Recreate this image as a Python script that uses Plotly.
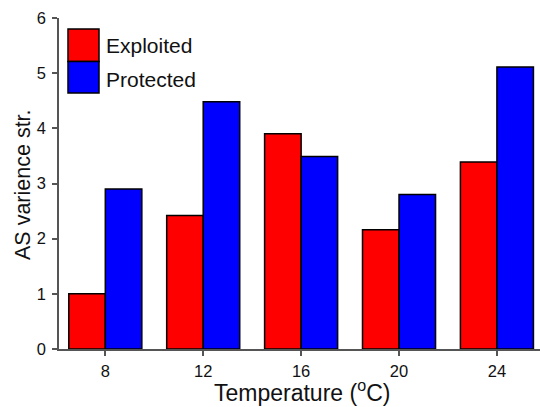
import plotly.graph_objects as go

categories = ["8", "12", "16", "20", "24"]
exploited = [1.0, 2.42, 3.90, 2.16, 3.39]
protected = [2.90, 4.48, 3.49, 2.80, 5.11]
y_ticks = [0, 1, 2, 3, 4, 5, 6]

W, H = 540, 407
L, R, T, B = 59, 0, 18, 58
pw, ph = W - L - R, H - T - B

def px(x):
    return (x - L) / pw

def py(y):
    return (H - B - y) / ph

FONT = "Liberation Sans, Arial, sans-serif"
AX = "#555555"
TXT = "#111111"

fig = go.Figure()
fig.add_trace(go.Bar(x=categories, y=exploited, name="Exploited",
                     marker=dict(color="#ff0000", line=dict(color="black", width=1.5))))
fig.add_trace(go.Bar(x=categories, y=protected, name="Protected",
                     marker=dict(color="#0000ff", line=dict(color="black", width=1.5))))

fig.update_layout(
    width=W, height=H,
    margin=dict(l=L, r=R, t=T, b=B, autoexpand=False),
    plot_bgcolor="white", paper_bgcolor="white",
    barmode="group", bargap=0.254, bargroupgap=0,
    showlegend=False,
    font=dict(family=FONT, color=TXT),
    xaxis=dict(type="category", range=[-0.473, 4.44], showline=True, linecolor=AX,
               linewidth=1.5, ticks="outside", ticklen=5, tickcolor=AX, tickwidth=1.5,
               tickfont=dict(size=16.5, family=FONT, color=TXT), ticklabelstandoff=1,
               showgrid=False, zeroline=False, automargin=False),
    yaxis=dict(range=[0, 6], tickvals=y_ticks, showline=True, linecolor=AX,
               linewidth=1.5, ticks="outside", ticklen=5, tickcolor=AX, tickwidth=1.5,
               tickfont=dict(size=16.5, family=FONT, color=TXT), ticklabelstandoff=3,
               showgrid=False, zeroline=False, automargin=False),
)

# axis titles
fig.add_annotation(text="Temperature (<sup>o</sup>C)", xref="paper", yref="paper",
                   x=px(302), y=py(391), xanchor="center", yanchor="middle",
                   showarrow=False, font=dict(size=23, family=FONT, color=TXT))
fig.add_annotation(text="AS varience str.", xref="paper", yref="paper",
                   x=px(23), y=py(185), xanchor="center", yanchor="middle", textangle=-90,
                   showarrow=False, font=dict(size=21.5, family=FONT, color=TXT))

legend_items = [("Exploited", "#ff0000", 29, 61.5, 45.8), ("Protected", "#0000ff", 61.5, 93, 79)]
for name, col, y0, y1, yc in legend_items:
    fig.add_shape(type="rect", xref="paper", yref="paper",
                  x0=px(68), x1=px(99), y0=py(y1), y1=py(y0),
                  fillcolor=col, line=dict(color="black", width=1.5))
    fig.add_annotation(text=name, xref="paper", yref="paper", x=px(104), y=py(yc),
                       xanchor="left", yanchor="middle", showarrow=False,
                       font=dict(size=21, family=FONT, color=TXT))

fig.write_html("out.html", config={"displayModeBar": False},
               post_script="document.body.style.margin='0';document.body.style.overflow='hidden';")
